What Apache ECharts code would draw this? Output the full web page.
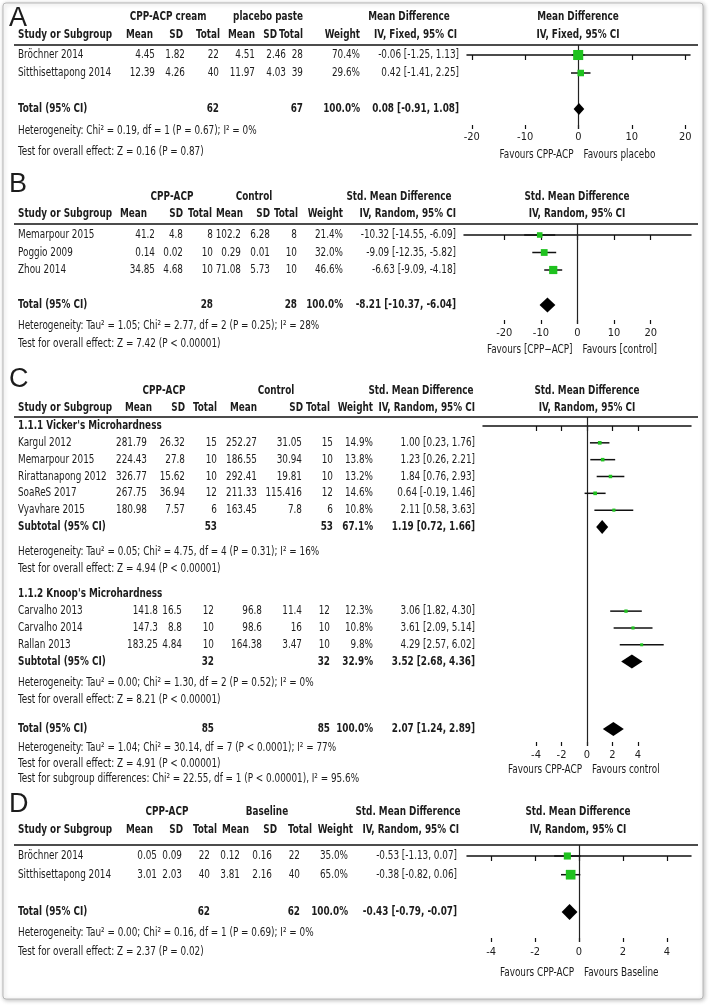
<!DOCTYPE html>
<html>
<head>
<meta charset="utf-8">
<script src="https://cdn.jsdelivr.net/npm/echarts@6/dist/echarts.min.js"></script>
<style>
html, body { margin: 0; padding: 0; background: #fff; }
#main { width: 709px; height: 1005px; }
</style>
</head>
<body>
<div id="main"></div>
<script>
// ---- A: CPP-ACP cream vs placebo paste ----
var aStudy = ['Bröchner 2014', 'Sitthisettapong 2014']
var aMean1 = [4.45, 12.39]
var aSd1 = [1.82, 4.26]
var aN1 = [22, 40]
var aMean2 = [4.51, 11.97]
var aSd2 = [2.46, 4.03]
var aN2 = [28, 39]
var aWeight = [70.4, 29.6]
var aEst = [-0.06, 0.42]
var aLow = [-1.25, -1.41]
var aHigh = [1.13, 2.25]
var aTotalN = [62, 67]
var aTotalCI = [0.08, -0.91, 1.08]
var aTicks = [-20, -10, 0, 10, 20]
var aNotes = ['Heterogeneity: Chi² = 0.19, df = 1 (P = 0.67); I² = 0%', 'Test for overall effect: Z = 0.16 (P = 0.87)']

// ---- B: CPP-ACP vs control ----
var bStudy = ['Memarpour 2015', 'Poggio 2009', 'Zhou 2014']
var bMean1 = [41.2, 0.14, 34.85]
var bSd1 = [4.8, 0.02, 4.68]
var bN1 = [8, 10, 10]
var bMean2 = [102.2, 0.29, 71.08]
var bSd2 = [6.28, 0.01, 5.73]
var bN2 = [8, 10, 10]
var bWeight = [21.4, 32.0, 46.6]
var bEst = [-10.32, -9.09, -6.63]
var bLow = [-14.55, -12.35, -9.09]
var bHigh = [-6.09, -5.82, -4.18]
var bTotalN = [28, 28]
var bTotalCI = [-8.21, -10.37, -6.04]
var bTicks = [-20, -10, 0, 10, 20]
var bNotes = ['Heterogeneity: Tau² = 1.05; Chi² = 2.77, df = 2 (P = 0.25); I² = 28%', 'Test for overall effect: Z = 7.42 (P < 0.00001)']

// ---- C: microhardness, two subgroups ----
var cvStudy = ['Kargul 2012', 'Memarpour 2015', 'Rirattanapong 2012', 'SoaReS 2017', 'Vyavhare 2015']
var cvMean1 = [281.79, 224.43, 326.77, 267.75, 180.98]
var cvSd1 = [26.32, 27.8, 15.62, 36.94, 7.57]
var cvN1 = [15, 10, 10, 12, 6]
var cvMean2 = [252.27, 186.55, 292.41, 211.33, 163.45]
var cvSd2 = [31.05, 30.94, 19.81, 115.416, 7.8]
var cvN2 = [15, 10, 10, 12, 6]
var cvWeight = [14.9, 13.8, 13.2, 14.6, 10.8]
var cvEst = [1.00, 1.23, 1.84, 0.64, 2.11]
var cvLow = [0.23, 0.26, 0.76, -0.19, 0.58]
var cvHigh = [1.76, 2.21, 2.93, 1.46, 3.63]
var cvSubN = [53, 53]
var cvSubW = 67.1
var cvSubCI = [1.19, 0.72, 1.66]
var cvNotes = ['Heterogeneity: Tau² = 0.05; Chi² = 4.75, df = 4 (P = 0.31); I² = 16%', 'Test for overall effect: Z = 4.94 (P < 0.00001)']

var ckStudy = ['Carvalho 2013', 'Carvalho 2014', 'Rallan 2013']
var ckMean1 = [141.8, 147.3, 183.25]
var ckSd1 = [16.5, 8.8, 4.84]
var ckN1 = [12, 10, 10]
var ckMean2 = [96.8, 98.6, 164.38]
var ckSd2 = [11.4, 16, 3.47]
var ckN2 = [12, 10, 10]
var ckWeight = [12.3, 10.8, 9.8]
var ckEst = [3.06, 3.61, 4.29]
var ckLow = [1.82, 2.09, 2.57]
var ckHigh = [4.30, 5.14, 6.02]
var ckSubN = [32, 32]
var ckSubW = 32.9
var ckSubCI = [3.52, 2.68, 4.36]
var ckNotes = ['Heterogeneity: Tau² = 0.00; Chi² = 1.30, df = 2 (P = 0.52); I² = 0%', 'Test for overall effect: Z = 8.21 (P < 0.00001)']

var cTotalN = [85, 85]
var cTotalCI = [2.07, 1.24, 2.89]
var cTicks = [-4, -2, 0, 2, 4]
var cNotes = ['Heterogeneity: Tau² = 1.04; Chi² = 30.14, df = 7 (P < 0.0001); I² = 77%', 'Test for overall effect: Z = 4.91 (P < 0.00001)', 'Test for subgroup differences: Chi² = 22.55, df = 1 (P < 0.00001), I² = 95.6%']

// ---- D: CPP-ACP vs baseline ----
var dStudy = ['Bröchner 2014', 'Sitthisettapong 2014']
var dMean1 = [0.05, 3.01]
var dSd1 = [0.09, 2.03]
var dN1 = [22, 40]
var dMean2 = [0.12, 3.81]
var dSd2 = [0.16, 2.16]
var dN2 = [22, 40]
var dWeight = [35.0, 65.0]
var dEst = [-0.53, -0.38]
var dLow = [-1.13, -0.82]
var dHigh = [0.07, 0.06]
var dTotalN = [62, 62]
var dTotalCI = [-0.43, -0.79, -0.07]
var dTicks = [-4, -2, 0, 2, 4]
var dNotes = ['Heterogeneity: Tau² = 0.00; Chi² = 0.16, df = 1 (P = 0.69); I² = 0%', 'Test for overall effect: Z = 2.37 (P = 0.02)']

var FONT = '"DejaVu Sans Condensed", "DejaVu Sans", sans-serif'
var SX = 0.82   // squeeze text to the narrow face of the original
var INK = '#1c1c1c'
var GREEN = '#1fc21f'

// layout of each panel (pixels)
var P = [
  {letter: 'A', letterY: 19, h1Y: 17, h2Y: 35, line: 45, row0: 55, rowH: 18, axisY: 129, left: 467, width: 223, min: -20.9, max: 20.9,
   margin: 3, favY: 155, dh: 6, k: 1.2, ticks: aTicks, plotX: 578,
   h1: [['CPP-ACP cream', 168], ['placebo paste', 268], ['Mean Difference', 409]], plotH: ['Mean Difference', 'IV, Fixed, 95% CI'],
   hdrCols: [153, 183, 220, 255, 277, 303, 360, 457], valCols: [155, 185, 219, 255, 286, 303, 360, 459],
   fav: ['Favours CPP-ACP', 'Favours placebo']},
  {letter: 'B', letterY: 185, h1Y: 197, h2Y: 214, line: 224, row0: 235, rowH: 17.5, axisY: 324, left: 464, width: 227, min: -31, max: 31,
   margin: 4, favY: 350, dh: 7.5, k: 1.2, ticks: bTicks, plotX: 577,
   h1: [['CPP-ACP', 172], ['Control', 254], ['Std. Mean Difference', 399]], plotH: ['Std. Mean Difference', 'IV, Random, 95% CI'],
   hdrCols: [147, 183, 212, 243, 270, 298, 343, 456], valCols: [155, 183, 213, 241, 270, 297, 343, 456],
   fav: ['Favours [CPP−ACP]', 'Favours [control]']},
  {letter: 'C', letterY: 380, h1Y: 391, h2Y: 408, line: 417, row0: 426, rowH: 16.83, axisY: 746, left: 483, width: 208, min: -8.16, max: 8.16,
   margin: 4, favY: 770, dh: 7, k: 0.95, ticks: cTicks, plotX: 587,
   h1: [['CPP-ACP', 164], ['Control', 276], ['Std. Mean Difference', 421]], plotH: ['Std. Mean Difference', 'IV, Random, 95% CI'],
   hdrCols: [152, 185, 217, 257, 303, 330, 373, 475], valCols: [147, 185, 217, 257, 302, 333, 373, 475],
   valCols2: [158, 182, 214, 262, 302, 330, 373, 475],
   fav: ['Favours CPP-ACP', 'Favours control']},
  {letter: 'D', letterY: 805, h1Y: 812, h2Y: 830, line: 845, row0: 856, rowH: 18.7, axisY: 942, left: 467, width: 224, min: -5.1, max: 5.1,
   margin: 5, favY: 973, dh: 8, k: 1.2, ticks: dTicks, plotX: 578,
   h1: [['CPP-ACP', 167], ['Baseline', 267], ['Std. Mean Difference', 408]], plotH: ['Std. Mean Difference', 'IV, Random, 95% CI'],
   hdrCols: [153, 183, 217, 249, 277, 312, 353, 459], valCols: [157, 182, 210, 240, 272, 300, 348, 457],
   fav: ['Favours CPP-ACP', 'Favours Baseline']}
]

var graphics = []
function text (x, y, s, align, bold, font) {
  graphics.push({
    type: 'text', x: x, y: y, silent: true, z: 10,
    scaleX: font ? 1 : SX,
    style: {
      text: s, fill: INK, font: font || ((bold ? 'bold ' : '') + '12px ' + FONT),
      align: align || 'left', verticalAlign: 'middle', textAlign: align || 'left', textVerticalAlign: 'middle'
    }
  })
}
function ci (e, l, h) {
  return e.toFixed(2) + ' [' + l.toFixed(2) + ', ' + h.toFixed(2) + ']'
}
function rowY (p, i) {
  return p.row0 + i * p.rowH
}
function studyRows (p, first, cols, name, m1, s1, n1, m2, s2, n2, w, e, lo, hi) {
  var out = []
  for (var i = 0; i < name.length; i++) {
    var y = rowY(p, first + i)
    text(18, y, name[i])
    var cells = [String(m1[i]), String(s1[i]), String(n1[i]), String(m2[i]), String(s2[i]), String(n2[i]), w[i].toFixed(1) + '%', ci(e[i], lo[i], hi[i])]
    for (var k = 0; k < 8; k++) text(cols[k], y, cells[k], 'right')
    out.push([e[i], first + i, lo[i], hi[i], p.k * Math.sqrt(w[i])])
  }
  return out
}
function totalRow (p, idx, cols, label, n, w, c) {
  var y = rowY(p, idx)
  text(18, y, label, 'left', true)
  text(cols[2], y, String(n[0]), 'right', true)
  text(cols[5], y, String(n[1]), 'right', true)
  text(cols[6], y, w.toFixed(1) + '%', 'right', true)
  text(cols[7], y, ci(c[0], c[1], c[2]), 'right', true)
  return [c[0], idx, c[1], c[2]]
}
function notes (ys, lines) {
  for (var i = 0; i < lines.length; i++) text(18, ys[i], lines[i])
}

// headers + lines shared by all panels
var hdr = ['Mean', 'SD', 'Total', 'Mean', 'SD', 'Total', 'Weight']
P.forEach(function (p) {
  text(9, p.letterY, p.letter, 'left', false, '27px "Liberation Sans", sans-serif')
  p.h1.forEach(function (h) { text(h[1], p.h1Y, h[0], 'center', true) })
  text(p.plotX, p.h1Y, p.plotH[0], 'center', true)
  text(18, p.h2Y, 'Study or Subgroup', 'left', true)
  for (var k = 0; k < 7; k++) text(p.hdrCols[k], p.h2Y, hdr[k], 'right', true)
  text(p.hdrCols[7], p.h2Y, p.plotH[1], 'right', true)
  text(p.plotX, p.h2Y, p.plotH[1], 'center', true)
  graphics.push({type: 'line', silent: true, shape: {x1: 14, y1: p.line, x2: 698, y2: p.line}, style: {stroke: '#111', lineWidth: 1.5}})
  var zeroX = p.left + (0 - p.min) / (p.max - p.min) * p.width
  text(zeroX - 5, p.favY, p.fav[0], 'right')
  text(zeroX + 5, p.favY, p.fav[1], 'left')
})

// table rows + plot data
var pa = P[0], pb = P[1], pc = P[2], pd = P[3]
var aPts = studyRows(pa, 0, pa.valCols, aStudy, aMean1, aSd1, aN1, aMean2, aSd2, aN2, aWeight, aEst, aLow, aHigh)
var aDia = [totalRow(pa, 3, pa.valCols, 'Total (95% CI)', aTotalN, 100, aTotalCI)]
notes([131, 152], aNotes)

var bPts = studyRows(pb, 0, pb.valCols, bStudy, bMean1, bSd1, bN1, bMean2, bSd2, bN2, bWeight, bEst, bLow, bHigh)
var bDia = [totalRow(pb, 4, pb.valCols, 'Total (95% CI)', bTotalN, 100, bTotalCI)]
notes([326, 344], bNotes)

text(18, rowY(pc, 0), "1.1.1 Vicker's Microhardness", 'left', true)
var cPts = studyRows(pc, 1, pc.valCols, cvStudy, cvMean1, cvSd1, cvN1, cvMean2, cvSd2, cvN2, cvWeight, cvEst, cvLow, cvHigh)
var cDia = [totalRow(pc, 6, pc.valCols, 'Subtotal (95% CI)', cvSubN, cvSubW, cvSubCI)]
notes([552, 569], cvNotes)
text(18, rowY(pc, 10), "1.1.2 Knoop's Microhardness", 'left', true)
cPts = cPts.concat(studyRows(pc, 11, pc.valCols2, ckStudy, ckMean1, ckSd1, ckN1, ckMean2, ckSd2, ckN2, ckWeight, ckEst, ckLow, ckHigh))
cDia.push(totalRow(pc, 14, pc.valCols2, 'Subtotal (95% CI)', ckSubN, ckSubW, ckSubCI))
notes([683, 700], ckNotes)
cDia.push(totalRow(pc, 18, pc.valCols2, 'Total (95% CI)', cTotalN, 100, cTotalCI))
notes([748, 764, 779], cNotes)

var dPts = studyRows(pd, 0, pd.valCols, dStudy, dMean1, dSd1, dN1, dMean2, dSd2, dN2, dWeight, dEst, dLow, dHigh)
var dDia = [totalRow(pd, 3, pd.valCols, 'Total (95% CI)', dTotalN, 100, dTotalCI)]
notes([933, 952], dNotes)

// outer frame
graphics.unshift({
  type: 'rect', silent: true, z: -1, shape: {x: 3, y: 3, width: 700, height: 996, r: 3},
  style: {fill: '#fff', stroke: '#b8b8b8', lineWidth: 1, shadowBlur: 4, shadowColor: 'rgba(0,0,0,0.25)', shadowOffsetX: 1, shadowOffsetY: 1}
})

function renderStudy (params, api) {
  var y = api.value(1)
  var c = api.coord([api.value(0), y])
  var l = api.coord([api.value(2), y])
  var h = api.coord([api.value(3), y])
  var s = api.value(4)
  return {
    type: 'group',
    children: [
      {type: 'line', shape: {x1: l[0], y1: c[1], x2: h[0], y2: c[1]}, style: {stroke: '#111', lineWidth: 1.5}},
      {type: 'rect', shape: {x: c[0] - s / 2, y: c[1] - s / 2, width: s, height: s}, style: {fill: GREEN}}
    ]
  }
}
function diamond (hh) {
  return function (params, api) {
    var y = api.value(1)
    var c = api.coord([api.value(0), y])
    var l = api.coord([api.value(2), y])
    var h = api.coord([api.value(3), y])
    return {
      type: 'polygon',
      shape: {points: [[l[0], c[1]], [c[0], c[1] - hh], [h[0], c[1]], [c[0], c[1] + hh]]},
      style: {fill: '#000'}
    }
  }
}

var pts = [aPts, bPts, cPts, dPts]
var dias = [aDia, bDia, cDia, dDia]
var grids = [], xAxes = [], yAxes = [], series = []
P.forEach(function (p, i) {
  grids.push({left: p.left, top: p.line, width: p.width, height: p.axisY - p.line})
  xAxes.push({
    gridIndex: i, type: 'value', min: p.min, max: p.max, position: 'bottom',
    axisLine: {lineStyle: {color: '#111', width: 1.5}},
    axisTick: {customValues: p.ticks, length: 5, lineStyle: {color: '#111', width: 1.2}},
    axisLabel: {customValues: p.ticks, margin: p.margin, color: INK, fontFamily: FONT, fontSize: 11},
    splitLine: {show: false}
  })
  xAxes.push({
    gridIndex: i, type: 'value', min: p.min, max: p.max, position: 'bottom',
    axisLine: {show: false},
    axisTick: {customValues: p.ticks, inside: true, length: 4, lineStyle: {color: '#111', width: 1.2}},
    axisLabel: {show: false},
    splitLine: {show: false}
  })
  yAxes.push({
    gridIndex: i, type: 'value', inverse: true, show: false,
    min: (p.line - p.row0) / p.rowH, max: (p.axisY - p.row0) / p.rowH
  })
  series.push({
    type: 'custom', xAxisIndex: 2 * i, yAxisIndex: i, clip: false, z: 2,
    encode: {x: [0, 2, 3], y: 1},
    renderItem: renderStudy, data: pts[i],
    markLine: {
      silent: true, z: 1, symbol: ['none', 'none'], label: {show: false},
      lineStyle: {color: '#222', width: 1.2, type: 'solid'},
      data: [{xAxis: 0}]
    }
  })
  series.push({
    type: 'custom', xAxisIndex: 2 * i, yAxisIndex: i, clip: false, z: 3,
    encode: {x: [0, 2, 3], y: 1},
    renderItem: diamond(p.dh), data: dias[i]
  })
})

var chart = echarts.init(document.getElementById('main'))
chart.setOption({
  animation: false,
  backgroundColor: '#fff',
  grid: grids,
  xAxis: xAxes,
  yAxis: yAxes,
  series: series,
  graphic: graphics
})
</script>
</body>
</html>
